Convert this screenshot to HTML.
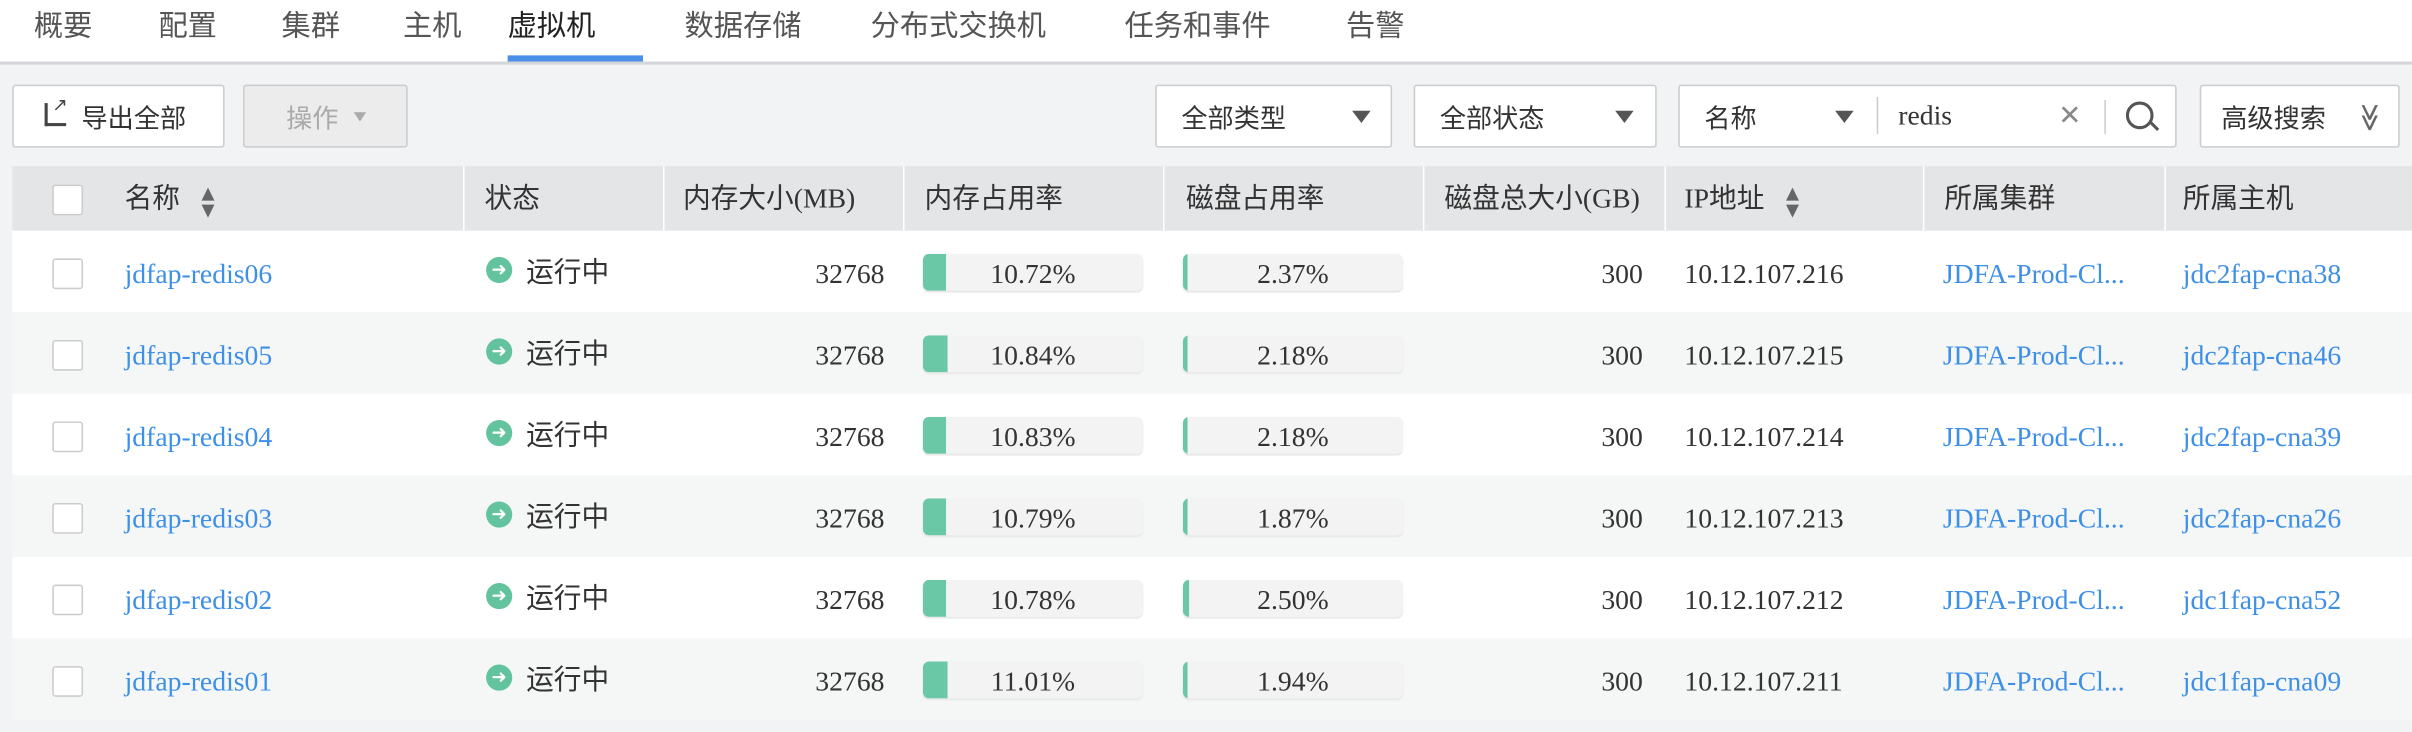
<!DOCTYPE html>
<html><head><meta charset="utf-8">
<style>
html,body{margin:0;padding:0;width:2412px;height:732px;overflow:hidden;background:#f2f3f5}
#wrap{position:absolute;left:0;top:0;width:1568px;height:476px;transform:scale(1.53827);transform-origin:0 0;background:#f2f3f5;font-family:"Liberation Serif","Noto Sans CJK SC",serif;color:#333;font-size:18px}
.abs{position:absolute}
#tabs{left:0;top:0;width:1568px;height:40px;background:#fff;border-bottom:2px solid #d4d6d9}
.tab{position:absolute;top:3px;font-size:19px;color:#555;font-family:"Noto Sans CJK SC",sans-serif;line-height:26px}
.btn{position:absolute;top:55px;height:41px;background:#fff;border:1px solid #ccc;border-radius:2px;box-sizing:border-box;font-family:"Noto Sans CJK SC",sans-serif;font-size:17px;line-height:39px}
.caret{position:absolute;width:0;height:0;border-left:6px solid transparent;border-right:6px solid transparent;border-top:8px solid #555}
#hdr{left:8px;top:108px;width:1560px;height:42px;background:#e4e5e7}
.hc{position:absolute;top:0;height:42px;line-height:42px;font-size:18px;color:#333;font-family:"Liberation Serif","Noto Sans CJK SC",serif;white-space:nowrap}
.sep{position:absolute;top:0;width:1px;height:42px;background:#fff}
.row{position:absolute;left:8px;width:1560px;height:53px}
.cb{position:absolute;width:18px;height:18px;border:1px solid #ccc;border-radius:2px;background:#fff}
.cell{position:absolute;top:2px;line-height:53px;font-size:18px;white-space:nowrap}
.link{color:#3d8fe8}
.bar{position:absolute;top:15px;height:24px;width:143px;background:#f3f3f3;border-radius:4px;overflow:hidden;box-shadow:0 1px 1px #e6e6e6}
.fill{position:absolute;left:0;top:0;height:24px;background:#6ac8a7}
.bt{position:absolute;left:0;width:143px;top:1px;line-height:24px;text-align:center;font-size:18px;color:#333}
.ico{position:absolute;top:17px;width:17px;height:17px;border-radius:50%;background:#62c39e;color:#fff;font-size:12px;line-height:17px;text-align:center;font-family:"DejaVu Sans",sans-serif}
.sort{display:inline-block;vertical-align:middle;margin-left:14px;font-size:11px;line-height:11px;color:#666;font-family:"DejaVu Sans",sans-serif;text-align:center}
</style></head><body>
<div id="wrap">
<div id="tabs" class="abs">
 <div class="tab" style="left:22px">概要</div>
 <div class="tab" style="left:103px">配置</div>
 <div class="tab" style="left:183px">集群</div>
 <div class="tab" style="left:262px">主机</div>
 <div class="tab" style="left:330px;color:#222">虚拟机</div>
 <div class="abs" style="left:330px;top:36px;width:88px;height:4px;background:#4a90e8"></div>
 <div class="tab" style="left:445px">数据存储</div>
 <div class="tab" style="left:566px">分布式交换机</div>
 <div class="tab" style="left:731px">任务和事件</div>
 <div class="tab" style="left:875px">告警</div>
</div>

<div class="btn" style="left:8px;width:138px">
 <span class="abs" style="left:20px;top:11px;width:12px;height:13px;border-left:2px solid #444;border-bottom:2px solid #444"></span>
 <span class="abs" style="left:25px;top:6px;font-size:12px;line-height:12px;color:#444;font-family:'DejaVu Sans'">↗</span>
 <span class="abs" style="left:44px;top:0;color:#333">导出全部</span>
</div>
<div class="btn" style="left:158px;width:107px;background:#ececec;color:#aaa">
 <span class="abs" style="left:27px">操作</span><span class="caret" style="left:71px;top:17px;border-top-color:#aaa;border-left-width:4px;border-right-width:4px;border-top-width:6px"></span>
</div>
<div class="btn" style="left:751px;width:154px">
 <span class="abs" style="left:16px">全部类型</span><span class="caret" style="left:127px;top:16px"></span></div>
<div class="btn" style="left:919px;width:158px">
 <span class="abs" style="left:16px">全部状态</span><span class="caret" style="left:130px;top:16px"></span></div>
<div class="btn" style="left:1091px;width:324px">
 <span class="abs" style="left:16px">名称</span><span class="caret" style="left:101px;top:16px"></span>
 <span class="abs" style="left:128px;top:7px;width:1px;height:24px;background:#ccc"></span>
 <span class="abs" style="left:142px;font-family:'Liberation Serif',serif;font-size:18px">redis</span>
 <span class="abs" style="left:246px;color:#888;font-family:'DejaVu Sans';font-size:18px">✕</span>
 <span class="abs" style="left:276px;top:9px;width:1px;height:22px;background:#ccc"></span>
 <span class="abs" style="left:290px;top:10px;width:14px;height:14px;border:2px solid #555;border-radius:50%"></span>
 <span class="abs" style="left:305px;top:25px;width:7px;height:2px;background:#555;transform:rotate(45deg)"></span>
</div>
<div class="btn" style="left:1430px;width:130px">
 <span class="abs" style="left:13px">高级搜索</span><span class="abs" style="left:100px;top:1px;color:#666;font-family:'DejaVu Sans';font-size:18px;transform:rotate(90deg)">≫</span></div>

<div id="hdr" class="abs">
 <div class="cb" style="left:26px;top:12px"></div>
 <div class="hc" style="left:73px">名称<span class="sort">▲<br>▼</span></div>
 <div class="sep" style="left:293px"></div>
 <div class="hc" style="left:307px">状态</div>
 <div class="sep" style="left:423px"></div>
 <div class="hc" style="left:436px">内存大小(MB)</div>
 <div class="sep" style="left:579px"></div>
 <div class="hc" style="left:593px">内存占用率</div>
 <div class="sep" style="left:748px"></div>
 <div class="hc" style="left:763px">磁盘占用率</div>
 <div class="sep" style="left:917px"></div>
 <div class="hc" style="left:931px">磁盘总大小(GB)</div>
 <div class="sep" style="left:1074px"></div>
 <div class="hc" style="left:1087px">IP地址<span class="sort">▲<br>▼</span></div>
 <div class="sep" style="left:1242px"></div>
 <div class="hc" style="left:1256px">所属集群</div>
 <div class="sep" style="left:1399px"></div>
 <div class="hc" style="left:1411px">所属主机</div>
</div>
<div id="rows"></div>
</div>
<script>
const names=["jdfap-redis06","jdfap-redis05","jdfap-redis04","jdfap-redis03","jdfap-redis02","jdfap-redis01"];
const memSize=[32768,32768,32768,32768,32768,32768];
const memUsage=[10.72,10.84,10.83,10.79,10.78,11.01];
const diskUsage=[2.37,2.18,2.18,1.87,2.50,1.94];
const diskSize=[300,300,300,300,300,300];
const ips=["10.12.107.216","10.12.107.215","10.12.107.214","10.12.107.213","10.12.107.212","10.12.107.211"];
const clusters=["JDFA-Prod-Cl...","JDFA-Prod-Cl...","JDFA-Prod-Cl...","JDFA-Prod-Cl...","JDFA-Prod-Cl...","JDFA-Prod-Cl..."];
const hosts=["jdc2fap-cna38","jdc2fap-cna46","jdc2fap-cna39","jdc2fap-cna26","jdc1fap-cna52","jdc1fap-cna09"];
const wrap=document.getElementById('wrap');
function mk(cls,style,txt){const d=document.createElement('div');if(cls)d.className=cls;if(style)d.style.cssText=style;if(txt!==undefined)d.textContent=txt;return d;}
names.forEach((n,i)=>{
 const r=mk('row','top:'+(150+i*53)+'px;background:'+(i%2?'#f5f6f6':'#fff'));
 
 
 const cb=mk('cb','left:26px;top:18px');
 
 
 r.appendChild(cb);
 const nm=mk('cell link','left:73px',n);
 
 
 r.appendChild(nm);
 const ic=mk('ico','left:308px','➜');
 
 
 r.appendChild(ic);
 const st=mk('cell','left:334px;font-family:"Noto Sans CJK SC",sans-serif;top:0px','运行中');
 
 
 r.appendChild(st);
 const ms=mk('cell','left:467px;width:100px;text-align:right',String(memSize[i]));
 
 
 r.appendChild(ms);
 [[592,memUsage[i],'memory-usage-bar'],[761,diskUsage[i],'disk-usage-bar']].forEach(([x,v,nmn])=>{
  const b=mk('bar','left:'+x+'px');
  
  
  const f=mk('fill','width:'+(Math.max(v/100*143,2))+'px');
  
  
  b.appendChild(f);
  const t=mk('bt','',v.toFixed(2)+'%');
  
  
  b.appendChild(t);
  r.appendChild(b);
 });
 const ds=mk('cell','left:960px;width:100px;text-align:right',String(diskSize[i]));
 
 
 r.appendChild(ds);
 const ip=mk('cell','left:1087px',ips[i]);
 
 
 r.appendChild(ip);
 const cl=mk('cell link','left:1255px',clusters[i]);
 
 
 r.appendChild(cl);
 const h=mk('cell link','left:1411px',hosts[i]);
 
 
 r.appendChild(h);
 wrap.appendChild(r);
});
</script>
</body></html>
